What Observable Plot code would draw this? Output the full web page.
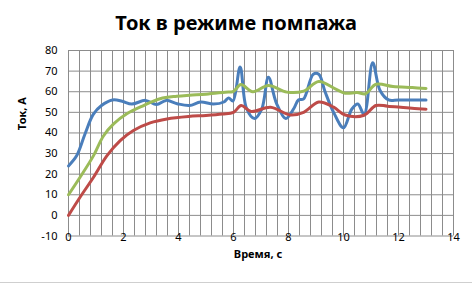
<!DOCTYPE html>
<html>
<head>
<meta charset="utf-8">
<script src="https://cdn.jsdelivr.net/npm/d3@7"></script>
<script src="https://cdn.jsdelivr.net/npm/@observablehq/plot@0.6"></script>
<style>
  html, body { margin: 0; padding: 0; background: #fff; }
  #wrap { position: relative; width: 472px; height: 285px; overflow: hidden; }
  #bottomline { position: absolute; left: 0; top: 282px; width: 472px; height: 1px; background: #cfcfcf; }
</style>
</head>
<body>
<div id="wrap"><div id="bottomline"></div></div>
<script>
const title = "Ток в режиме помпажа";
const xLabel = "Время, с";
const yLabel = "Ток, А";
const xTicks = [0, 2, 4, 6, 8, 10, 12, 14];
const yTicks = [-10, 0, 10, 20, 30, 40, 50, 60, 70, 80];

const blueX = [0, 0.3, 0.6, 0.9, 1.2, 1.6, 1.95, 2.3, 2.8, 3.2, 3.55, 3.95, 4.4, 4.8, 5.27, 5.65, 5.82, 5.98, 6.24, 6.47, 6.76, 7.03, 7.27, 7.56, 7.9, 8.2, 8.36, 8.55, 8.9, 9.1, 9.33, 9.64, 10.0, 10.3, 10.52, 10.75, 11.06, 11.33, 11.64, 12.0, 13.0];
const blueY = [24, 29, 39.5, 49, 53.3, 56, 55.4, 54, 55.8, 53.8, 55.8, 54.2, 53.3, 55, 54, 55, 57, 55.5, 72, 52, 47, 51.7, 67, 54.5, 47, 52, 56, 56.5, 68.5, 68.5, 60, 50, 42.5, 51.5, 54, 49, 74, 60.6, 56, 56, 56];

const greenX = [0, 0.42, 0.91, 1.27, 1.64, 2.12, 2.73, 3.33, 3.94, 4.4, 5.0, 5.7, 6.0, 6.27, 6.7, 7.27, 7.94, 8.55, 9.1, 9.7, 10.06, 10.5, 10.8, 11.18, 11.8, 12.5, 13.0];
const greenY = [10, 18.5, 29, 38.5, 44.4, 49.3, 53.3, 56.6, 57.8, 58.3, 58.8, 59.8, 60.2, 63.5, 60, 63, 59.8, 60.3, 65, 61.4, 59.3, 59.6, 59, 63.6, 62.5, 62, 61.6];

const redX = [0, 0.42, 0.91, 1.4, 1.88, 2.36, 2.97, 3.58, 4.36, 5.0, 5.6, 6.0, 6.28, 6.64, 7.35, 8.06, 8.55, 9.1, 9.64, 10.06, 10.75, 11.18, 11.6, 12.3, 13.0];
const redY = [0, 8.8, 18.5, 29, 36.3, 41.2, 44.9, 46.8, 48, 48.5, 49.2, 50, 53.3, 50.4, 52.5, 48.7, 50, 55, 52.5, 48.7, 48.6, 53.3, 53, 52.2, 51.5];

const series = [
  {name: "s1", xs: blueX, ys: blueY, color: "#4A7EBB"},
  {name: "s2", xs: greenX, ys: greenY, color: "#9BBB59"},
  {name: "s3", xs: redX, ys: redY, color: "#BE4B48"}
];

const minorX = d3.range(0, 36).map(i => +(i * 0.4).toFixed(1));
const font = "'Noto Sans', 'Open Sans', sans-serif";

const chart = Plot.plot({
  width: 472,
  height: 285,
  marginLeft: 68,
  marginRight: 19,
  marginTop: 50,
  marginBottom: 49.5,
  style: {fontFamily: font, fontSize: "11px", background: "#fff", color: "#000"},
  x: {domain: [0, 14]},
  y: {domain: [-10, 80]},
  marks: [
    Plot.ruleX(minorX, {stroke: "#8c8c8c", strokeWidth: 1, strokeOpacity: 1}),
    Plot.ruleY(yTicks, {stroke: "#8c8c8c", strokeWidth: 1, strokeOpacity: 1}),
    ...series.map(s => Plot.line(s.xs.map((x, i) => ({x, y: s.ys[i]})), {x: "x", y: "y", stroke: s.color, strokeWidth: 3, curve: "catmull-rom"})),
    Plot.axisY(yTicks, {tickSize: 0, tickPadding: 11, label: null, fontSize: 11, tickFormat: d => String(d)}),
    Plot.axisX(xTicks, {tickSize: 0, tickPadding: -3, label: null, fontSize: 11, tickFormat: d => String(d)}),
    Plot.text([yLabel], {frameAnchor: "left", dx: -46, dy: -13, rotate: -90, fontWeight: "bold", fontSize: 11, text: d => d}),
    Plot.text([xLabel], {frameAnchor: "bottom", dx: -3, dy: 22, fontWeight: "bold", fontSize: 11, text: d => d}),
    Plot.text([title], {frameAnchor: "top", dx: -25, dy: -35, fontWeight: "bold", fontSize: 20, text: d => d})
  ]
});
document.getElementById("wrap").prepend(chart);
</script>
</body>
</html>
